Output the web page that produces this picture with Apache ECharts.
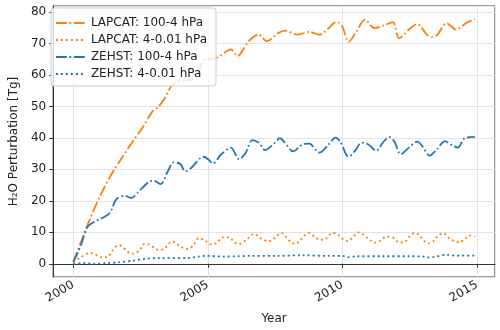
<!DOCTYPE html>
<html>
<head>
<meta charset="utf-8">
<script src="https://cdn.jsdelivr.net/npm/echarts@6/dist/echarts.min.js"></script>
<style>
  html, body { margin: 0; padding: 0; background: #fff; }
  #chart { width: 500px; height: 330px; }
</style>
</head>
<body>
<div id="chart"></div>
<script>
// values (year, Tg)
const lapcatLowYears = [2000.0, 2000.52, 2001.0, 2001.49, 2001.86, 2002.22, 2002.58, 2002.95, 2003.13, 2003.37,
  2003.65, 2003.92, 2004.4, 2004.65, 2004.89, 2005.1, 2005.37, 2005.86, 2006.1, 2006.47, 2006.65, 2006.89,
  2007.19, 2007.62, 2007.86, 2008.35, 2008.77, 2009.14, 2009.5, 2009.68, 2009.8, 2009.99, 2010.23, 2010.53,
  2010.83, 2011.2, 2011.56, 2011.87, 2012.11, 2012.47, 2012.78, 2013.14, 2013.32, 2013.51, 2013.87, 2014.23,
  2014.6, 2014.92];
const lapcatLowVals = [0.5, 12.1, 21.6, 29.5, 34.3, 39.0, 43.3, 48.5, 49.6, 52.2,
  56.5, 58.0, 58.6, 61.0, 64.9, 65.0, 65.6, 68.1, 66.0, 70.2, 71.8, 72.8,
  70.7, 73.3, 74.1, 72.8, 73.7, 72.8, 74.9, 76.5, 76.8, 75.5, 70.5, 73.9,
  77.6, 74.9, 75.8, 76.8, 71.6, 74.4, 76.2, 72.8, 72.1, 72.6, 76.4, 74.4,
  76.5, 77.8];

const lapcatHighYears = [2000.0, 2000.3, 2000.6, 2000.76, 2001.07, 2001.25, 2001.55, 2001.73, 2002.04, 2002.22,
  2002.46, 2002.64, 2002.82, 2003.19, 2003.37, 2003.68, 2003.98, 2004.22, 2004.46, 2004.65, 2004.89, 2005.13,
  2005.31, 2005.56, 2005.8, 2005.98, 2006.16, 2006.41, 2006.71, 2007.01, 2007.26, 2007.44, 2007.74, 2007.92,
  2008.1, 2008.26, 2008.41, 2008.59, 2008.77, 2008.96, 2009.2, 2009.38, 2009.62, 2009.8, 2010.05, 2010.2,
  2010.41, 2010.59, 2010.77, 2011.02, 2011.2, 2011.38, 2011.62, 2011.86, 2012.11, 2012.29, 2012.47, 2012.65,
  2012.83, 2013.01, 2013.19, 2013.38, 2013.56, 2013.75, 2013.99, 2014.17, 2014.35, 2014.54, 2014.72, 2014.92];
const lapcatHighVals = [0.5, 2.2, 3.4, 3.2, 2.1, 2.1, 5.3, 5.8, 3.7, 3.2,
  4.2, 6.3, 6.1, 4.4, 4.7, 7.1, 5.5, 4.7, 5.8, 8.1, 7.4, 6.1,
  6.5, 8.4, 8.4, 6.8, 6.3, 7.4, 9.5, 7.9, 7.2, 7.9, 9.8, 8.4,
  6.8, 6.3, 7.2, 9.0, 9.8, 8.6, 7.6, 7.9, 9.8, 9.5, 7.6, 7.2,
  8.6, 10.0, 9.3, 7.6, 6.7, 7.2, 8.6, 8.4, 6.8, 6.8, 8.4, 9.7,
  9.3, 7.4, 6.5, 7.2, 9.0, 9.7, 7.9, 7.2, 6.8, 7.9, 9.0, 8.6];

const zehstLowYears = [2000.0, 2000.28, 2000.52, 2000.76, 2001.13, 2001.37, 2001.61, 2001.92, 2002.16, 2002.4,
  2002.82, 2003.0, 2003.25, 2003.49, 2003.73, 2003.98, 2004.16, 2004.4, 2004.71, 2004.85, 2005.01, 2005.19,
  2005.5, 2005.86, 2006.16, 2006.41, 2006.65, 2006.89, 2007.13, 2007.44, 2007.68, 2007.86, 2008.17, 2008.53,
  2008.77, 2009.14, 2009.5, 2009.74, 2009.92, 2010.23, 2010.47, 2010.71, 2010.95, 2011.26, 2011.5, 2011.74,
  2011.92, 2012.17, 2012.47, 2012.78, 2012.96, 2013.24, 2013.51, 2013.81, 2014.05, 2014.29, 2014.54, 2014.92];
const zehstLowVals = [0.5, 5.8, 11.6, 13.2, 14.8, 16.3, 20.6, 21.6, 20.9, 22.7,
  26.1, 26.4, 25.3, 29.0, 32.2, 31.7, 29.3, 30.6, 33.5, 34.0, 33.2, 31.9,
  34.8, 36.9, 33.2, 35.3, 39.3, 38.5, 36.1, 38.0, 39.9, 38.5, 35.7, 38.0,
  38.2, 35.3, 38.0, 40.1, 38.8, 34.0, 35.9, 38.5, 38.0, 35.9, 38.5, 40.3,
  39.0, 34.8, 36.9, 38.8, 37.5, 34.3, 36.4, 39.0, 37.8, 36.9, 39.9, 40.3];

const zehstHighYears = [2000.0, 2000.34, 2000.76, 2001.25, 2001.73, 2002.22, 2002.7, 2003.19, 2004.28, 2004.65,
  2004.89, 2005.62, 2006.1, 2006.59, 2007.56, 2008.5, 2009.5, 2010.0, 2010.23, 2010.5, 2011.5, 2012.5,
  2013.0, 2013.14, 2013.4, 2013.87, 2014.2, 2014.92];
const zehstHighVals = [0.0, 0.2, 0.0, 0.2, 0.5, 1.0, 1.6, 1.8, 1.8, 2.3,
  2.5, 2.3, 2.4, 2.5, 2.5, 2.7, 2.5, 2.5, 2.1, 2.4, 2.4, 2.4,
  2.3, 2.0, 2.2, 2.85, 2.6, 2.6];

const seriesNames = ["LAPCAT: 100-4 hPa", "LAPCAT: 4-0.01 hPa", "ZEHST: 100-4 hPa", "ZEHST: 4-0.01 hPa"];

const ORANGE = "#ff7f0e";
const BLUE = "#1f77b4";
const DASHDOT = [10.8, 2.7, 1.8, 2.7];
const DOTTED = [2, 3];
const FONT = "DejaVu Sans";
const FS = 12;

function pairs(xs, ys) {
  return xs.map((x, i) => [x, ys[i]]);
}

function makeSeries(name, xs, ys, color, dash) {
  return {
    name: name,
    type: "line",
    data: pairs(xs, ys),
    symbol: "none",
    smooth: 0.3,
    color: color,
    lineStyle: { color: color, width: 1.8, type: dash, cap: "butt" },
    emphasis: { disabled: true },
  };
}

const chart = echarts.init(document.getElementById("chart"), null, { renderer: "canvas" });

const option = {
  animation: false,
  textStyle: { fontFamily: FONT },
  grid: {
    left: 45, right: 5, top: 6, bottom: 53,
    show: true, borderColor: "#333", borderWidth: 1, backgroundColor: "transparent",
  },
  legend: {
    orient: "vertical",
    left: 51, top: 8,
    data: seriesNames,
    itemWidth: 30, itemHeight: 14, itemGap: 5,
    padding: [9, 9, 6, 4],
    borderColor: "#ccc", borderWidth: 1, borderRadius: 3,
    backgroundColor: "rgba(255,255,255,0.8)",
    itemStyle: { opacity: 0 },
    lineStyle: { width: 1.8 },
    textStyle: { fontFamily: FONT, fontSize: FS, color: "#222" },
    selectedMode: false,
  },
  xAxis: {
    type: "value",
    min: 1999.254, max: 2015.67,
    splitNumber: 3,
    name: "Year",
    nameLocation: "middle",
    nameGap: 36,
    nameTextStyle: { fontFamily: FONT, fontSize: FS, color: "#222" },
    axisLine: { show: true, lineStyle: { color: "#333", width: 1 } },
    axisTick: { show: true, length: 4, lineStyle: { color: "#333" } },
    axisLabel: {
      rotate: 30, margin: 7,
      fontFamily: FONT, fontSize: FS, color: "#222",
      showMinLabel: false, showMaxLabel: false,
      formatter: (v) => String(Math.round(v)),
    },
    splitLine: { show: true, lineStyle: { color: "#e3e3e3", width: 1 } },
  },
  yAxis: {
    type: "value",
    min: -4.2, max: 81.9,
    splitNumber: 8,
    name: "H₂O Perturbation [Tg]",
    nameLocation: "middle",
    nameGap: 25,
    nameTextStyle: { fontFamily: FONT, fontSize: FS, color: "#222" },
    axisLine: { show: true, lineStyle: { color: "#333", width: 1 } },
    axisTick: { show: true, length: 4, lineStyle: { color: "#333" } },
    axisLabel: {
      margin: 7,
      fontFamily: FONT, fontSize: FS, color: "#222",
      showMinLabel: false, showMaxLabel: false,
    },
    splitLine: { show: true, lineStyle: { color: "#e3e3e3", width: 1 } },
  },
  series: [
    makeSeries(seriesNames[0], lapcatLowYears, lapcatLowVals, ORANGE, DASHDOT),
    makeSeries(seriesNames[1], lapcatHighYears, lapcatHighVals, ORANGE, DOTTED),
    makeSeries(seriesNames[2], zehstLowYears, zehstLowVals, BLUE, DASHDOT),
    makeSeries(seriesNames[3], zehstHighYears, zehstHighVals, BLUE, DOTTED),
  ],
};

chart.setOption(option);
</script>
</body>
</html>
